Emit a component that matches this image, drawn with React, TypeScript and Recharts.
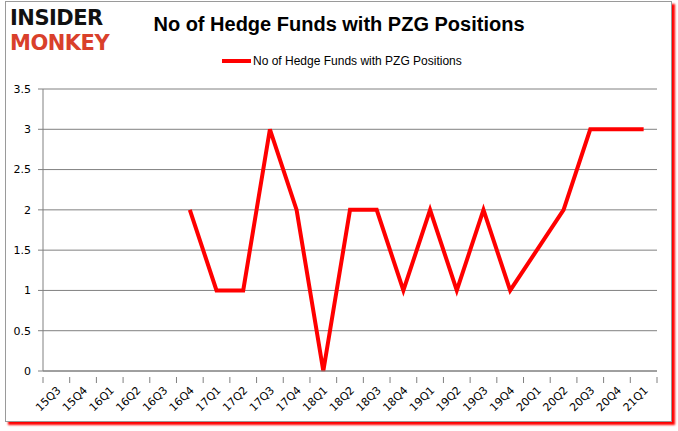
import { CartesianGrid, Line, LineChart, XAxis, YAxis } from "recharts";

const quarters = [
  "15Q3", "15Q4", "16Q1", "16Q2", "16Q3", "16Q4", "17Q1", "17Q2", "17Q3", "17Q4",
  "18Q1", "18Q2", "18Q3", "18Q4", "19Q1", "19Q2", "19Q3", "19Q4", "20Q1", "20Q2",
  "20Q3", "20Q4", "21Q1",
];

// empty quarters have no reported value
const hedgeFunds: (number | null)[] = [
  null, null, null, null, null, 2, 1, 1, 3, 2,
  0, 2, 2, 1, 2, 1, 2, 1, null, 2,
  3, 3, 3,
];

const yTicks = [0, 0.5, 1, 1.5, 2, 2.5, 3, 3.5];

const seriesName = "No of Hedge Funds with PZG Positions";

const data = quarters.map((q, i) => ({ quarter: q, value: hedgeFunds[i] }));

const WIDTH = 678;
const HEIGHT = 431;
const margin = { top: 89, right: 21, bottom: 0, left: 8 };
const Y_AXIS_WIDTH = 35;
const X_AXIS_HEIGHT = 60;
const plotWidth = WIDTH - margin.left - margin.right - Y_AXIS_WIDTH;
const step = plotWidth / quarters.length;

const tickFont = "'DejaVu Sans', Verdana, sans-serif";

const QuarterTick = (props: any) => {
  const { x, y, payload, index } = props;
  const half = step / 2;
  return (
    <g>
      <line x1={x - half} y1={y - 2} x2={x - half} y2={y + 4} stroke="#808080" />
      {index === quarters.length - 1 && (
        <line x1={x + half} y1={y - 2} x2={x + half} y2={y + 4} stroke="#808080" />
      )}
      <text
        x={x + 5}
        y={y + 12}
        transform={`rotate(-45 ${x + 5} ${y + 12})`}
        textAnchor="end"
        fontSize={11}
        fontFamily={tickFont}
        fill="#000"
      >
        {payload.value}
      </text>
    </g>
  );
};

const App = () => {
  return (
    <div
      style={{
        position: "absolute",
        left: 0,
        top: 0,
        width: WIDTH,
        height: HEIGHT,
        background: "#fff",
      }}
    >
      <div
        style={{
          position: "absolute",
          left: 5,
          top: 1,
          width: 665,
          height: 419,
          border: "1px solid #9a9a9a",
          boxShadow: "3px 3px 2px #ff0000",
          background: "#fff",
        }}
      />
      <div
        style={{
          position: "absolute",
          left: 10,
          top: 6,
          fontFamily: "'DejaVu Sans', sans-serif",
          fontWeight: 900,
          fontSize: 21,
          lineHeight: "25px",
          letterSpacing: -0.5,
        }}
      >
        <div style={{ color: "#111" }}>INSIDER</div>
        <div style={{ color: "#d9402b" }}>MONKEY</div>
      </div>
      <div
        style={{
          position: "absolute",
          left: 0,
          width: WIDTH,
          top: 13,
          textAlign: "center",
          fontFamily: "'Liberation Sans', Arial, sans-serif",
          fontWeight: "bold",
          fontSize: 20,
          color: "#000",
        }}
      >
        No of Hedge Funds with PZG Positions
      </div>
      <div
        style={{
          position: "absolute",
          left: 222,
          top: 54,
          display: "flex",
          alignItems: "center",
          fontFamily: "'Liberation Sans', Arial, sans-serif",
          fontSize: 12,
          color: "#000",
        }}
      >
        <span
          style={{
            display: "inline-block",
            width: 29,
            height: 4,
            background: "#ff0000",
            marginRight: 2,
          }}
        />
        {seriesName}
      </div>
      <div style={{ position: "absolute", left: 0, top: 0 }}>
        <LineChart width={WIDTH} height={HEIGHT} data={data} margin={margin}>
          <CartesianGrid vertical={false} stroke="#808080" strokeWidth={1} />
          <XAxis
            dataKey="quarter"
            interval={0}
            height={X_AXIS_HEIGHT}
            padding={{ left: step / 2, right: step / 2 }}
            stroke="#808080"
            tickLine={false}
            tick={<QuarterTick />}
          />
          <YAxis
            domain={[0, 3.5]}
            ticks={yTicks}
            width={Y_AXIS_WIDTH}
            stroke="#808080"
            tickSize={5}
            tickMargin={7}
            tick={{ fill: "#000", fontSize: 11, fontFamily: tickFont }}
          />
          <Line
            type="linear"
            dataKey="value"
            name={seriesName}
            stroke="#ff0000"
            strokeWidth={4}
            dot={false}
            connectNulls
            isAnimationActive={false}
          />
        </LineChart>
      </div>
    </div>
  );
};

export default App;
